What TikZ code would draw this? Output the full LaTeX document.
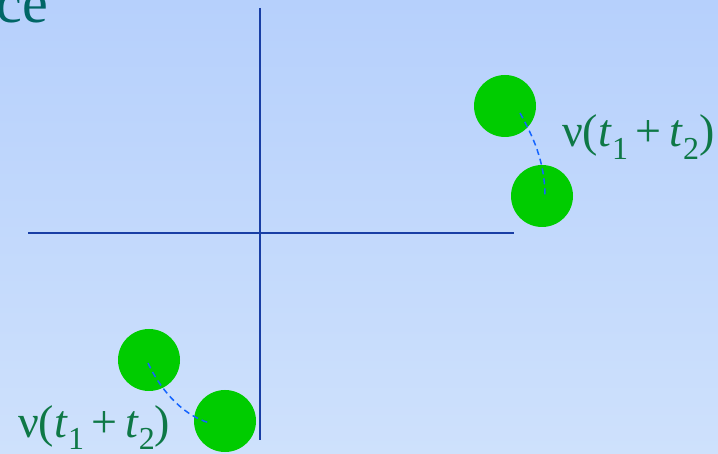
\documentclass[tikz,border=0pt]{standalone}
\usepackage{fontspec}
\setmainfont{Liberation Serif}
\newfontfamily\lserif{Liberation Serif}
\definecolor{bgtop}{RGB}{182,208,252}
\definecolor{bgbot}{RGB}{206,225,252}
\definecolor{axiscol}{RGB}{24,62,165}
\definecolor{ballcol}{RGB}{0,204,0}
\definecolor{dashcol}{RGB}{20,100,255}
\definecolor{labcol}{RGB}{14,120,70}
\definecolor{titlecol}{RGB}{0,102,102}
\newcommand{\sbs}[1]{\raisebox{-0.28em}{\fontsize{32pt}{32pt}\selectfont #1}}
\newcommand{\nulabel}{ν(\textit{t}\sbs{1}\,+\,\textit{t}\sbs{2})}
\begin{document}
\begin{tikzpicture}[x=1pt,y=-1pt,
  ball/.style={circle,fill=ballcol,draw=none,minimum size=62pt,inner sep=0pt},
  axisline/.style={draw=axiscol,line width=2pt},
  path/.style={draw=dashcol,line width=1.5pt,dash pattern=on 6pt off 4pt},
  lab/.style={text=labcol,font=\lserif\fontsize{46pt}{46pt}\selectfont,inner sep=0pt}]
\shade[top color=bgtop,bottom color=bgbot] (0,0) rectangle (718,454);
\useasboundingbox (0,0) rectangle (718,454);
\node[anchor=base east,text=titlecol,font=\lserif\fontsize{58pt}{58pt}\selectfont,inner sep=0pt] (title) at (48,23) {ce};
\coordinate (vt) at (260,8);
\coordinate (vb) at (260,440);
\coordinate (hl) at (28,233);
\coordinate (hr) at (514,233);
\draw[axisline] (vt) -- (vb);
\draw[axisline] (hl) -- (hr);
\node[ball] (b1) at (505,106) {};
\node[ball] (b2) at (542,196) {};
\node[ball] (b3) at (149,360) {};
\node[ball] (b4) at (225,421) {};
\coordinate (s1) at (520,113);
\coordinate (e1) at (545,197);
\coordinate (s2) at (148,363);
\coordinate (e2) at (210,423);
\draw[path] (s1) .. controls (532,135) and (545,160) .. (e1);
\draw[path] (s2) .. controls (158,385) and (180,415) .. (e2);
\node[lab,anchor=base west] (l1) at (562,147) {\nulabel};
\node[lab,anchor=base west] (l2) at (18,437) {\nulabel};
\end{tikzpicture}
\end{document}
